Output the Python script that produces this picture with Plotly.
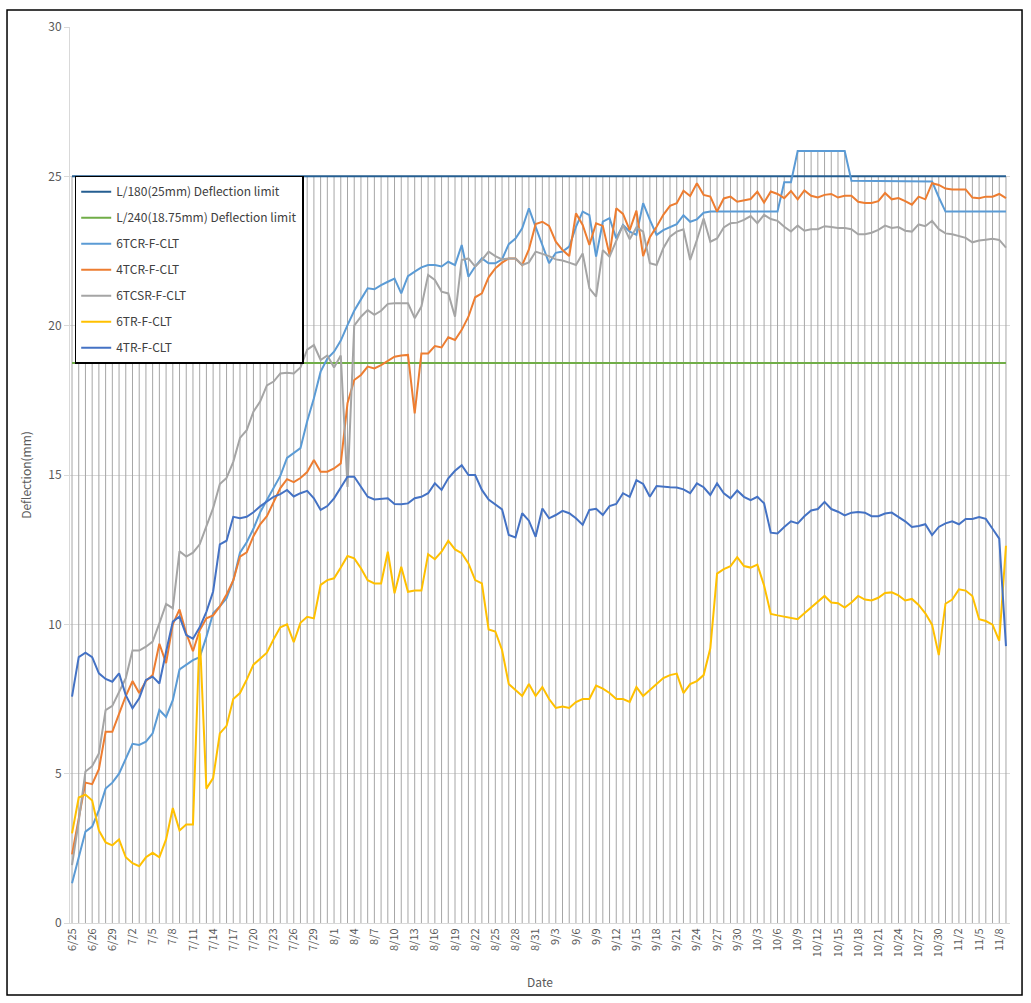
import plotly.graph_objects as go

dates = ["6/25", "6/25", "6/25", "6/26", "6/27", "6/28", "6/29", "6/30",
         "7/1", "7/2", "7/3", "7/4", "7/5", "7/6", "7/7", "7/8", "7/9", "7/10",
         "7/11", "7/12", "7/13", "7/14", "7/15", "7/16", "7/17", "7/18", "7/19", "7/20",
         "7/21", "7/22", "7/23", "7/24", "7/25", "7/26", "7/27", "7/28", "7/29", "7/30", "7/31",
         "8/1", "8/2", "8/3", "8/4", "8/5", "8/6", "8/7", "8/8", "8/9", "8/10",
         "8/11", "8/12", "8/13", "8/14", "8/15", "8/16", "8/17", "8/18", "8/19", "8/20",
         "8/21", "8/22", "8/23", "8/24", "8/25", "8/26", "8/27", "8/28", "8/29", "8/30", "8/31",
         "9/1", "9/2", "9/3", "9/4", "9/5", "9/6", "9/7", "9/8", "9/9", "9/10",
         "9/11", "9/12", "9/13", "9/14", "9/15", "9/16", "9/17", "9/18", "9/19", "9/20",
         "9/21", "9/22", "9/23", "9/24", "9/25", "9/26", "9/27", "9/28", "9/29", "9/30",
         "10/1", "10/2", "10/3", "10/4", "10/5", "10/6", "10/7", "10/8", "10/9", "10/10",
         "10/11", "10/12", "10/13", "10/14", "10/15", "10/16", "10/17", "10/18", "10/19", "10/20",
         "10/21", "10/22", "10/23", "10/24", "10/25", "10/26", "10/27", "10/28", "10/29", "10/30", "10/31",
         "11/1", "11/2", "11/3", "11/4", "11/5", "11/6", "11/7", "11/8", "11/9"]

limit_l180 = [25.0] * len(dates)
limit_l240 = [18.75] * len(dates)

tcr6 = [1.33, 2.22, 3.06, 3.23, 3.78, 4.5, 4.7, 5.0, 5.5, 6.0,
        5.96, 6.07, 6.35, 7.13, 6.9, 7.46, 8.49, 8.64, 8.8, 8.9,
        9.58, 10.37, 10.6, 10.87, 11.47, 12.4, 12.75, 13.2, 13.75, 14.16,
        14.56, 14.97, 15.57, 15.75, 15.9, 16.8, 17.57, 18.46, 18.9, 19.13,
        19.5, 20.02, 20.5, 20.88, 21.25, 21.22, 21.36, 21.47, 21.58, 21.08,
        21.66, 21.81, 21.95, 22.03, 22.03, 21.98, 22.14, 22.03, 22.7, 21.64,
        21.98, 22.25, 22.09, 22.09, 22.22, 22.73, 22.92, 23.26, 23.93, 23.31,
        22.7, 22.09, 22.44, 22.48, 22.65, 23.31, 23.82, 23.7, 22.31, 23.48,
        23.6, 22.92, 23.37, 23.15, 23.04, 24.1, 23.54, 23.04, 23.2, 23.31,
        23.4, 23.7, 23.48, 23.56, 23.78, 23.82, 23.82, 23.82, 23.82, 23.82,
        23.82, 23.82, 23.82, 23.82, 23.82, 23.82, 24.8, 24.8, 25.85, 25.85,
        25.85, 25.85, 25.85, 25.85, 25.85, 25.85, 24.85, 24.85, 24.85, 24.85,
        24.85, 24.85, 24.85, 24.85, 24.85, 24.85, 24.85, 24.85, 24.83, 24.3,
        23.82, 23.82, 23.82, 23.82, 23.82, 23.82, 23.82, 23.82, 23.82, 23.82]

tcr4 = [2.3, 3.5, 4.7, 4.65, 5.15, 6.4, 6.4, 7.0, 7.6, 8.1,
        7.7, 8.1, 8.3, 9.35, 8.7, 10.0, 10.5, 9.7, 9.1, 9.8,
        10.2, 10.3, 10.6, 11.0, 11.47, 12.27, 12.41, 12.95, 13.35, 13.62,
        14.09, 14.56, 14.86, 14.76, 14.9, 15.1, 15.5, 15.11, 15.11, 15.22,
        15.39, 17.4, 18.18, 18.35, 18.63, 18.57, 18.68, 18.83, 18.96, 19.0,
        19.02, 17.06, 19.07, 19.07, 19.32, 19.27, 19.61, 19.52, 19.86, 20.3,
        20.95, 21.08, 21.62, 21.92, 22.11, 22.25, 22.25, 22.03, 22.55, 23.4,
        23.48, 23.34, 22.81, 22.53, 22.33, 23.76, 23.37, 22.7, 23.43, 23.34,
        22.37, 23.93, 23.74, 23.2, 23.85, 22.33, 22.96, 23.31, 23.71, 24.01,
        24.1, 24.52, 24.34, 24.77, 24.38, 24.32, 23.82, 24.26, 24.32, 24.15,
        24.19, 24.24, 24.49, 24.12, 24.49, 24.41, 24.27, 24.51, 24.23, 24.53,
        24.35, 24.29, 24.38, 24.41, 24.29, 24.35, 24.35, 24.15, 24.11, 24.11,
        24.17, 24.44, 24.23, 24.27, 24.17, 24.05, 24.32, 24.23, 24.77, 24.71,
        24.59, 24.56, 24.56, 24.56, 24.29, 24.27, 24.32, 24.32, 24.41, 24.27]

tcsr6 = [1.94, 3.4, 5.07, 5.25, 5.68, 7.13, 7.27, 7.75, 8.2, 9.12,
         9.12, 9.25, 9.42, 10.03, 10.68, 10.54, 12.45, 12.27, 12.4, 12.68,
         13.28, 13.89, 14.7, 14.9, 15.44, 16.24, 16.5, 17.12, 17.46, 18.0,
         18.13, 18.4, 18.42, 18.4, 18.6, 19.2, 19.35, 18.85, 19.0, 18.6,
         19.0, 14.6, 20.0, 20.3, 20.52, 20.36, 20.5, 20.73, 20.75, 20.75,
         20.75, 20.25, 20.64, 21.7, 21.53, 21.14, 21.08, 20.3, 22.2, 22.25,
         21.98, 22.2, 22.48, 22.33, 22.22, 22.25, 22.25, 22.03, 22.12, 22.48,
         22.4, 22.33, 22.22, 22.18, 22.11, 22.03, 22.42, 21.25, 20.97, 22.53,
         22.31, 22.81, 23.37, 22.89, 23.29, 23.15, 22.09, 22.03, 22.59, 22.98,
         23.15, 23.23, 22.2, 22.87, 23.59, 22.81, 22.92, 23.29, 23.43, 23.45,
         23.54, 23.67, 23.43, 23.71, 23.57, 23.51, 23.31, 23.15, 23.35, 23.18,
         23.23, 23.23, 23.33, 23.3, 23.27, 23.27, 23.23, 23.06, 23.06, 23.11,
         23.21, 23.35, 23.27, 23.3, 23.18, 23.15, 23.39, 23.33, 23.51, 23.23,
         23.09, 23.06, 22.99, 22.94, 22.79, 22.85, 22.88, 22.91, 22.87, 22.61]

tr6 = [3.0, 4.2, 4.3, 4.1, 3.1, 2.7, 2.6, 2.8, 2.2, 2.0,
       1.9, 2.2, 2.35, 2.2, 2.8, 3.85, 3.1, 3.3, 3.3, 9.7,
       4.5, 4.85, 6.35, 6.6, 7.5, 7.7, 8.15, 8.65, 8.85, 9.05,
       9.5, 9.9, 10.0, 9.4, 10.05, 10.25, 10.2, 11.32, 11.48, 11.54,
       11.9, 12.29, 12.21, 11.88, 11.48, 11.37, 11.37, 12.43, 11.04, 11.93,
       11.09, 11.13, 11.13, 12.35, 12.18, 12.43, 12.8, 12.51, 12.38, 12.04,
       11.48, 11.37, 9.83, 9.76, 9.14, 8.0, 7.8, 7.6, 8.0, 7.6,
       7.9, 7.5, 7.2, 7.25, 7.2, 7.4, 7.5, 7.5, 7.95, 7.85,
       7.7, 7.5, 7.5, 7.4, 7.9, 7.6, 7.8, 8.0, 8.2, 8.3,
       8.35, 7.7, 8.0, 8.1, 8.3, 9.2, 11.7, 11.85, 11.95, 12.25,
       11.95, 11.9, 12.0, 11.3, 10.35, 10.3, 10.26, 10.23, 10.17, 10.37,
       10.56, 10.73, 10.95, 10.73, 10.71, 10.56, 10.73, 10.95, 10.83, 10.8,
       10.89, 11.05, 11.07, 10.97, 10.8, 10.85, 10.65, 10.37, 9.99, 8.97,
       10.69, 10.83, 11.17, 11.13, 10.95, 10.17, 10.11, 9.99, 9.45, 12.63]

tr4 = [7.58, 8.9, 9.05, 8.9, 8.36, 8.17, 8.08, 8.36, 7.63, 7.19,
       7.52, 8.14, 8.25, 8.02, 9.08, 10.09, 10.26, 9.64, 9.52, 9.9,
       10.42, 11.1, 12.68, 12.8, 13.6, 13.55, 13.6, 13.75, 13.95, 14.1,
       14.27, 14.36, 14.5, 14.28, 14.39, 14.47, 14.22, 13.83, 13.96, 14.22,
       14.59, 14.94, 14.94, 14.6, 14.27, 14.18, 14.2, 14.22, 14.03, 14.02,
       14.05, 14.22, 14.27, 14.39, 14.72, 14.5, 14.89, 15.14, 15.33, 15.0,
       15.0, 14.5, 14.18, 14.03, 13.85, 12.99, 12.91, 13.72, 13.47, 12.93,
       13.88, 13.55, 13.66, 13.8, 13.72, 13.55, 13.33, 13.83, 13.87, 13.66,
       13.96, 14.03, 14.39, 14.27, 14.83, 14.7, 14.27, 14.63, 14.6, 14.59,
       14.58, 14.52, 14.39, 14.72, 14.59, 14.33, 14.72, 14.39, 14.22, 14.48,
       14.27, 14.16, 14.27, 14.05, 13.07, 13.04, 13.26, 13.45, 13.38, 13.62,
       13.81, 13.86, 14.1, 13.86, 13.77, 13.65, 13.74, 13.76, 13.74, 13.62,
       13.62, 13.71, 13.74, 13.59, 13.45, 13.26, 13.29, 13.35, 12.99, 13.26,
       13.38, 13.45, 13.35, 13.53, 13.53, 13.59, 13.53, 13.2, 12.87, 9.27]

series = [
    ("L/180(25mm) Deflection limit", limit_l180, "#255E91"),
    ("L/240(18.75mm) Deflection limit", limit_l240, "#70AD47"),
    ("6TCR-F-CLT", tcr6, "#5B9BD5"),
    ("4TCR-F-CLT", tcr4, "#ED7D31"),
    ("6TCSR-F-CLT", tcsr6, "#A5A5A5"),
    ("6TR-F-CLT", tr6, "#FFC000"),
    ("4TR-F-CLT", tr4, "#4472C4"),
]

idx = list(range(len(dates)))

# drop lines from the highest series down to the axis
drop_x, drop_y = [], []
for i in idx:
    top = max(s[1][i] for s in series)
    drop_x += [i, i, None]
    drop_y += [0, top, None]

fig = go.Figure()
fig.add_trace(go.Scatter(x=drop_x, y=drop_y, mode="lines",
                         line=dict(color="#A6A6A6", width=1),
                         showlegend=False, hoverinfo="skip"))

for k, (name, vals, color) in enumerate(series):
    fig.add_trace(go.Scatter(x=idx, y=vals, mode="lines", name=name,
                             legendgroup="g%d" % k,
                             line=dict(color=color, width=2)))

tickvals = idx[::3]
ticktext = [dates[i] for i in tickvals]

font_family = "Noto Sans CJK KR, Noto Sans, sans-serif"

fig.update_layout(
    width=1031, height=1003,
    margin=dict(l=70, r=21, t=27, b=80),
    paper_bgcolor="white", plot_bgcolor="white",
    font=dict(family=font_family, color="#595959", size=12),
    showlegend=True,
    legend=dict(x=0.005, y=0.834, xanchor="left", yanchor="top",
                bgcolor="white", bordercolor="black", borderwidth=1.5,
                font=dict(size=12, color="#404040", family=font_family),
                traceorder="grouped", tracegroupgap=7,
                itemwidth=30),
    xaxis=dict(range=[-0.3, 139.6], tickmode="array", tickvals=tickvals,
               ticktext=ticktext, tickangle=-90, showgrid=False,
               zeroline=False, showline=True, linecolor="#D9D9D9",
               automargin=False,
               tickfont=dict(size=11, color="#595959"),
               title=dict(text="Date", font=dict(size=12, color="#595959"),
                          standoff=22)),
    yaxis=dict(range=[0, 30], dtick=5, showgrid=True, gridcolor="#D9D9D9",
               zeroline=False, showline=True, linecolor="#D9D9D9",
               ticks="outside", ticklen=5, tickcolor="#D9D9D9",
               automargin=False,
               tickfont=dict(size=12, color="#595959"),
               title=dict(text="Deflection(mm)", font=dict(size=12, color="#595959"),
                          standoff=14)),
    shapes=[dict(type="rect", xref="paper", yref="paper",
                 x0=-0.067, x1=1.0128, y0=-0.0804, y1=1.019,
                 line=dict(color="black", width=1.5))],
)

fig.write_html("out.html", config={"displayModeBar": False})

# remove the browser's default page margin so the figure sits at the window origin
with open("out.html", "r", encoding="utf-8") as f:
    html = f.read()
html = html.replace("<head>", "<head><style>html,body{margin:0;padding:0;overflow:hidden;}</style>", 1)
with open("out.html", "w", encoding="utf-8") as f:
    f.write(html)
